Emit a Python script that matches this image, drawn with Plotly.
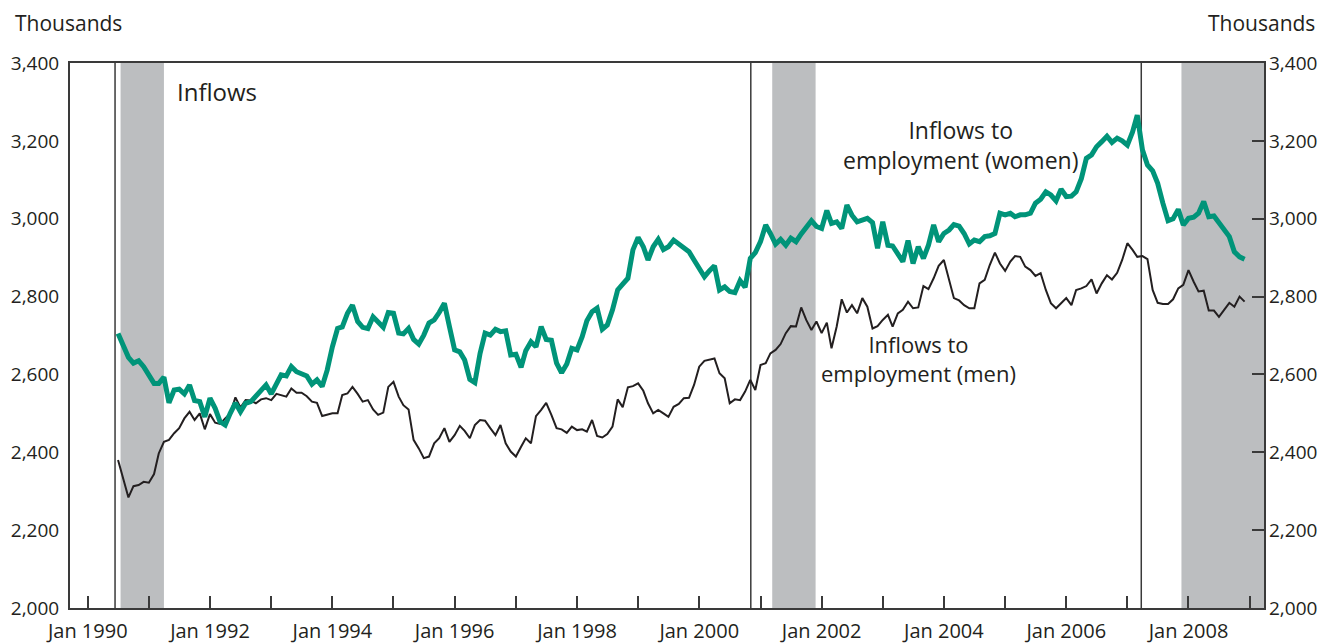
import pandas as pd
import plotly.graph_objects as go

# monthly inflows to employment, thousands (Jul 1990 - Dec 2008)
months = pd.date_range("1990-07-01", "2008-12-01", freq="MS")

women = [
    2705, 2673, 2644, 2629, 2635, 2620, 2599, 2577, 2577, 2593, 2527, 2560,
    2562, 2550, 2573, 2533, 2530, 2491, 2539, 2513, 2479, 2470, 2500, 2527,
    2504, 2526, 2530, 2543, 2556, 2573, 2550, 2573, 2599, 2596, 2620, 2607,
    2601, 2596, 2575, 2586, 2569, 2611, 2671, 2718, 2722, 2757, 2778, 2736,
    2721, 2718, 2748, 2736, 2721, 2759, 2757, 2706, 2704, 2718, 2690, 2678,
    2701, 2732, 2740, 2759, 2783, 2723, 2663, 2658, 2637, 2587, 2579, 2654,
    2706, 2701, 2716, 2710, 2712, 2650, 2652, 2618, 2661, 2684, 2671, 2723,
    2690, 2688, 2629, 2604, 2627, 2667, 2663, 2697, 2738, 2761, 2770, 2716,
    2727, 2766, 2817, 2832, 2847, 2920, 2952, 2928, 2894, 2928, 2947, 2921,
    2928, 2945, 2934, 2925, 2915, 2894, 2870, 2851, 2866, 2879, 2817, 2825,
    2813, 2810, 2841, 2824, 2898, 2913, 2941, 2984, 2962, 2935, 2947, 2932,
    2950, 2941, 2961, 2980, 2995, 2980, 2975, 3021, 2988, 2992, 2975, 3035,
    3009, 2992, 2997, 3001, 2990, 2924, 2992, 2932, 2930, 2909, 2890, 2944,
    2885, 2928, 2898, 2932, 2984, 2941, 2962, 2971, 2985, 2981, 2962, 2935,
    2945, 2941, 2954, 2956, 2962, 3014, 3010, 3014, 3005, 3010, 3010, 3014,
    3040, 3050, 3069, 3061, 3046, 3076, 3057, 3058, 3069, 3103, 3155, 3164,
    3185, 3198, 3212, 3196, 3207, 3200, 3189, 3223, 3266, 3177, 3138, 3123,
    3091, 3040, 2995, 3000, 3024, 2984, 3001, 3004, 3014, 3044, 3005, 3007,
    2990, 2975, 2954, 2915, 2902, 2896,
]

men = [
    2380, 2329, 2284, 2313, 2316, 2324, 2322, 2344, 2397, 2427, 2432, 2449,
    2462, 2487, 2504, 2483, 2500, 2459, 2498, 2476, 2473, 2487, 2500, 2541,
    2515, 2534, 2533, 2526, 2536, 2539, 2534, 2550, 2547, 2543, 2564, 2553,
    2553, 2544, 2530, 2527, 2493, 2496, 2500, 2500, 2547, 2551, 2568, 2550,
    2530, 2534, 2510, 2496, 2502, 2568, 2581, 2543, 2521, 2510, 2432, 2410,
    2385, 2389, 2423, 2436, 2462, 2427, 2444, 2468, 2455, 2436, 2470, 2483,
    2481, 2462, 2444, 2470, 2423, 2402, 2389, 2414, 2436, 2423, 2493, 2509,
    2527, 2496, 2462, 2459, 2450, 2466, 2457, 2459, 2453, 2483, 2442, 2438,
    2447, 2466, 2536, 2516, 2567, 2570, 2577, 2558, 2526, 2500, 2509, 2500,
    2491, 2517, 2524, 2539, 2540, 2573, 2620, 2635, 2638, 2641, 2603, 2590,
    2526, 2536, 2534, 2556, 2586, 2560, 2624, 2629, 2654, 2663, 2678, 2706,
    2724, 2723, 2772, 2740, 2714, 2736, 2706, 2733, 2667, 2723, 2793, 2759,
    2778, 2757, 2796, 2774, 2718, 2724, 2740, 2753, 2723, 2757, 2766, 2787,
    2770, 2772, 2827, 2819, 2847, 2879, 2894, 2843, 2796, 2790, 2778, 2770,
    2770, 2834, 2843, 2881, 2913, 2885, 2866, 2890, 2904, 2902, 2877, 2868,
    2853, 2860, 2817, 2783, 2770, 2783, 2796, 2778, 2817, 2821, 2827, 2844,
    2808, 2834, 2855, 2844, 2861, 2894, 2937, 2920, 2902, 2904, 2896, 2817,
    2784, 2781, 2781, 2793, 2821, 2830, 2868, 2838, 2813, 2815, 2764, 2764,
    2748, 2766, 2784, 2774, 2800, 2787,
]

recessions = [("1990-07-16", "1991-04-01"), ("2001-03-12", "2001-11-26"),
              ("2007-11-20", "2009-06-30")]
breaks = ["1990-06-13", "2000-11-04", "2007-03-25"]

year_ticks = [f"{y}-01-01" for y in range(1990, 2010)]
year_text = [f"Jan {y}" if y % 2 == 0 else "" for y in range(1990, 2010)]
y_ticks = list(range(2000, 3401, 200))
y_text = [f"{v:,}" for v in y_ticks]

FONT = "Open Sans"
INK = "#231f20"
AXIS = "#3a3a3a"

fig = go.Figure()
fig.add_trace(go.Scatter(x=months, y=men, mode="lines",
                         line=dict(color=INK, width=2), hoverinfo="skip"))
fig.add_trace(go.Scatter(x=months, y=women, mode="lines",
                         line=dict(color="#009479", width=5), hoverinfo="skip"))
# invisible copy so the right-hand axis is drawn
fig.add_trace(go.Scatter(x=months, y=men, yaxis="y2", mode="lines",
                         line=dict(width=0), opacity=0, hoverinfo="skip"))

for a, b in recessions:
    fig.add_shape(type="rect", xref="x", yref="paper", x0=a, x1=b, y0=0, y1=1,
                  fillcolor="#bcbec0", line=dict(width=0), layer="below")
for d in breaks:
    fig.add_shape(type="line", xref="x", yref="paper", x0=d, x1=d, y0=0, y1=1,
                  line=dict(color=AXIS, width=1.5), layer="below")

# the page body adds an 8px offset, so the figure is 8px smaller and the
# left/top margins are trimmed to match
fig.update_layout(
    width=1336, height=635,
    margin=dict(l=62, r=80, t=55, b=35),
    paper_bgcolor="white", plot_bgcolor="white",
    showlegend=False,
    font=dict(family=FONT, size=20, color=INK),
    xaxis=dict(range=["1989-09-17", "2009-03-27"], tickvals=year_ticks,
               ticktext=year_text, ticks="inside", ticklen=12, tickwidth=1.5,
               tickcolor=AXIS, showline=True, linecolor=AXIS, linewidth=2,
               mirror=True, showgrid=False, zeroline=False, automargin=False,
               ticklabelstandoff=4, tickfont=dict(size=20)),
    yaxis=dict(range=[2000, 3400], tickvals=y_ticks, ticktext=y_text,
               ticks="", showline=True, linecolor=AXIS, linewidth=2,
               mirror=True, showgrid=False, zeroline=False, automargin=False,
               ticklabelstandoff=5, tickfont=dict(size=19)),
    yaxis2=dict(range=[2000, 3400], tickvals=y_ticks, ticktext=y_text,
                overlaying="y", side="right", ticks="inside", ticklen=12,
                tickwidth=1.5, tickcolor=AXIS, showline=False, showgrid=False,
                zeroline=False, automargin=False, ticklabelstandoff=4,
                tickfont=dict(size=19)),
)

# (text, paper x, paper y, anchor, size)
notes = [
    ("Thousands", -0.0469, 1.0734, "left", 21),
    ("Thousands", 1.0436, 1.0734, "right", 21),
    ("Inflows", 0.0888, 0.9468, "left", 24),
    ("Inflows to<br>employment (women)", 0.7460, 0.8495, "center", 23),
    ("Inflows to<br>employment (men)", 0.7110, 0.4587, "center", 22),
]
for text, x, y, anchor, size in notes:
    fig.add_annotation(text=text, x=x, y=y, xref="paper", yref="paper",
                       xanchor=anchor, yanchor="middle", align="center",
                       showarrow=False, borderpad=0,
                       font=dict(size=size, color=INK))

fig.write_html("out.html")
